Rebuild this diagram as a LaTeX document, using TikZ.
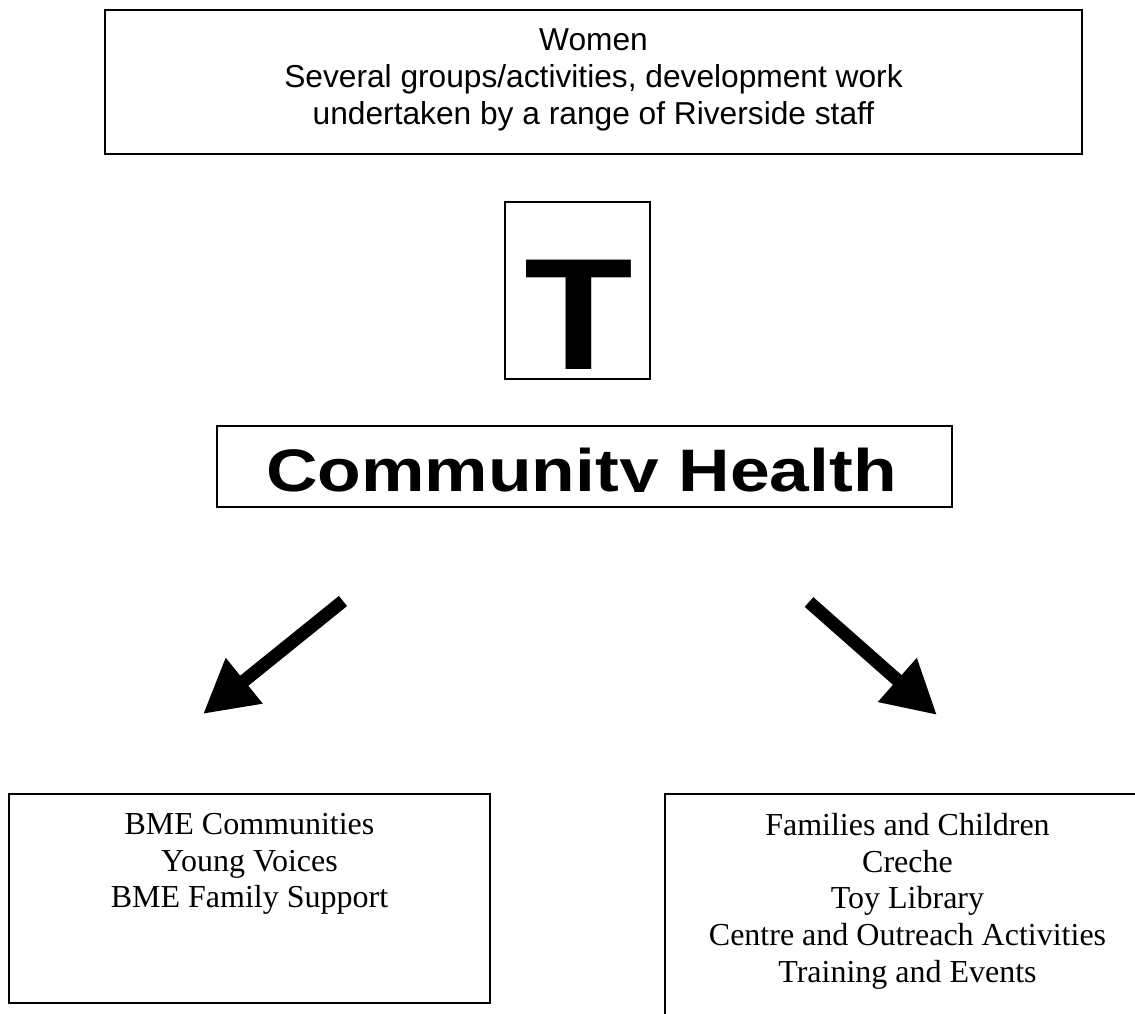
\documentclass[tikz,border=0pt]{standalone}
\usepackage{fontspec}
\setmainfont{Liberation Serif}
\setsansfont{Liberation Sans}
\usetikzlibrary{arrows.meta}

\tikzset{
  box/.style={draw, line width=1.5pt, inner sep=0pt},
  boxtext/.style={inner sep=0pt, align=center},
  bigarrow/.style={line width=13pt, -{Triangle[length=53pt,width=55pt]}}
}

\begin{document}
\begin{tikzpicture}[x=1pt,y=-1pt]
      \clip (0,0) rectangle (1135,1014);
      % top box
      \node[box, minimum width=977pt, minimum height=144pt] (women) at (593.5,82) {};
      \node[boxtext, anchor=north, font=\sffamily\fontsize{31.7}{37}\selectfont] (womentext) at (593.5,28)
        {Women\\Several groups/activities, development work\\undertaken by a range of Riverside staff};
      % big T
      \node[box, minimum width=145pt, minimum height=177pt] (tbox) at (577.5,290.5) {};
      \node[inner sep=0pt, anchor=base, xscale=1.12, font=\sffamily\bfseries\fontsize{159}{159}\selectfont] (tletter) at (579,369) {T};
      % title box, text cut off at the baseline
      \node[box, minimum width=735pt, minimum height=81pt] (health) at (584.5,466.5) {};
      \begin{scope}
        \clip (219,428) rectangle (950,491);
        \node[inner sep=0pt, anchor=base, xscale=1.19, font=\sffamily\bfseries\fontsize{60}{60}\selectfont] (healthtext) at (581.5,491) {Community Health};
      \end{scope}
      % arrows
      \coordinate (bmetail) at (343,601);
      \coordinate (bmetip) at (203,714);
      \coordinate (famtail) at (809,602);
      \coordinate (famtip) at (937,715);
      \draw[bigarrow] (bmetail) -- (bmetip);
      \draw[bigarrow] (famtail) -- (famtip);
      % bottom boxes
      \node[box, minimum width=481pt, minimum height=209pt] (bme) at (249.5,898.5) {};
      \node[boxtext, anchor=north, font=\fontsize{32}{36.7}\selectfont] (bmetext) at (249.5,813)
        {BME Communities\\Young Voices\\BME Family Support};
      \node[box, minimum width=485pt, minimum height=236pt] (families) at (907.5,912) {}; %runs off the page
      \node[boxtext, anchor=north, font=\fontsize{32}{36.7}\selectfont] (familiestext) at (907.5,813)
        {Families and Children\\Creche\\Toy Library\\Centre and Outreach Activities\\Training and Events};
\end{tikzpicture}
\end{document}
